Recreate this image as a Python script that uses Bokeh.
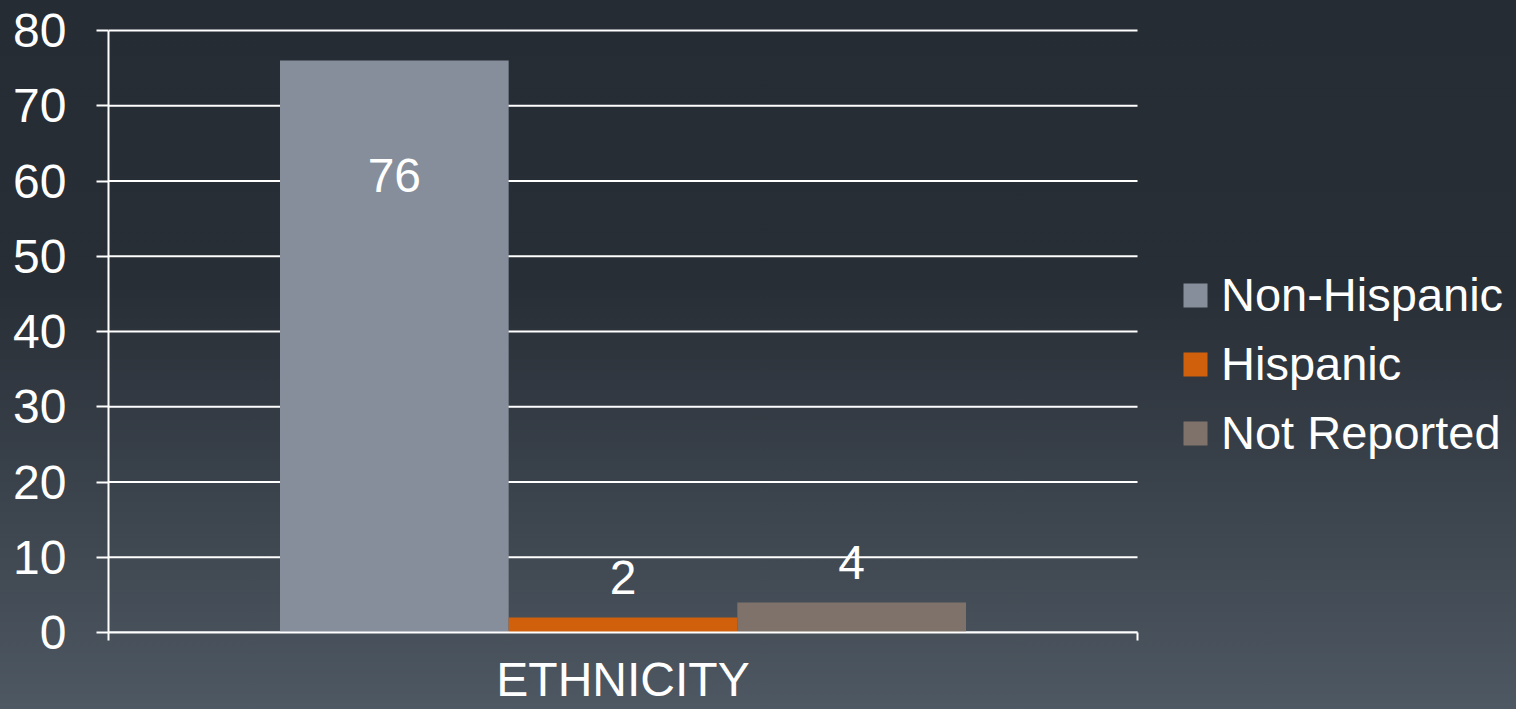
from bokeh.plotting import figure
from bokeh.models import ColumnDataSource, Range1d, FixedTicker, Legend, LegendItem
from bokeh.core.properties import value
from bokeh.embed import file_html
from bokeh.resources import INLINE

# ---- data ----
category = "ETHNICITY"
series = ["Non-Hispanic", "Hispanic", "Not Reported"]
values = [76, 2, 4]
colors = ["#868e9b", "#d0600c", "#7f726b"]
y_ticks = [0, 10, 20, 30, 40, 50, 60, 70, 80]

FONT = "Liberation Sans"
FS = "48px"
n = len(series)
group_width = 2 / 3
bar_w = group_width / n
xs = [0.5 + (i - (n - 1) / 2) * bar_w for i in range(n)]
label_offsets = [115 if v > 40 else -40 for v in values]

W, H = 1516, 709
LEFT, TOP, BOTTOM = 108, 28, 77
CAT_W = 1029                      # pixel width of the category region
frame_w = W - LEFT
frame_h = H - TOP - BOTTOM
y_max = y_ticks[-1]
y_end = y_max * (frame_h / (frame_h - 2))   # 2px headroom so the top grid line is not clipped

src = ColumnDataSource(dict(x=xs, top=values, color=colors, series=series,
                            label=[str(v) for v in values], yoff=label_offsets))
grid_src = ColumnDataSource(dict(y=y_ticks, x0=[0] * len(y_ticks), x1=[1] * len(y_ticks)))

p = figure(width=W, height=H, output_backend="svg", toolbar_location=None,
           x_range=Range1d(0, frame_w / CAT_W), y_range=Range1d(0, y_end),
           min_border_left=LEFT, min_border_right=0, min_border_top=TOP,
           min_border_bottom=BOTTOM)
p.styles = {"background-image": "linear-gradient(to bottom, #262c34 0%, #282e36 40%, #4e5862 100%)"}
p.background_fill_alpha = 0
p.border_fill_alpha = 0
p.outline_line_alpha = 0
p.grid.visible = False

# grid lines limited to the category region
p.segment(x0="x0", x1="x1", y0="y", y1="y", line_color="white", line_width=2,
          source=grid_src)

bars = p.vbar(x="x", top="top", bottom=0, width=bar_w, color="color", line_alpha=0,
              source=src)
p.text(x="x", y="top", text="label", y_offset="yoff", text_align="center",
       text_baseline="middle", text_color="white", text_font=value(FONT),
       text_font_size=FS, source=src)

# y axis
ya = p.yaxis[0]
ya.ticker = FixedTicker(ticks=y_ticks)
ya.bounds = (0, y_max)
ya.axis_line_color = "white"
ya.axis_line_width = 2
ya.major_tick_line_color = "white"
ya.major_tick_line_width = 2
ya.major_tick_in = 0
ya.major_tick_out = 12
ya.minor_tick_line_alpha = 0
ya.major_label_text_color = "white"
ya.major_label_text_font = FONT
ya.major_label_text_font_size = FS
ya.major_label_standoff = 30

# x axis
xa = p.xaxis[0]
xa.ticker = FixedTicker(ticks=[0.5], minor_ticks=[0, 1])
xa.bounds = (0, 1)
xa.major_label_overrides = {0.5: category}
xa.axis_line_color = "white"
xa.axis_line_width = 2
xa.major_tick_line_alpha = 0
xa.minor_tick_line_color = "white"
xa.minor_tick_line_width = 2
xa.minor_tick_in = 0
xa.minor_tick_out = 8
xa.major_label_text_color = "white"
xa.major_label_text_font = FONT
xa.major_label_text_font_size = FS
xa.major_label_standoff = 12

items = [LegendItem(label=s, renderers=[bars], index=i) for i, s in enumerate(series)]
lg = Legend(items=items, location=(1072, 172))
lg.background_fill_alpha = 0
lg.border_line_alpha = 0
lg.padding = 0
lg.margin = 0
lg.glyph_width = 30
lg.glyph_height = 30
lg.label_standoff = 11
lg.spacing = 14
lg.label_text_color = "white"
lg.label_text_font = FONT
lg.label_text_font_size = "47px"
p.add_layout(lg, "center")

open("out.html", "w").write(file_html(p, INLINE))
